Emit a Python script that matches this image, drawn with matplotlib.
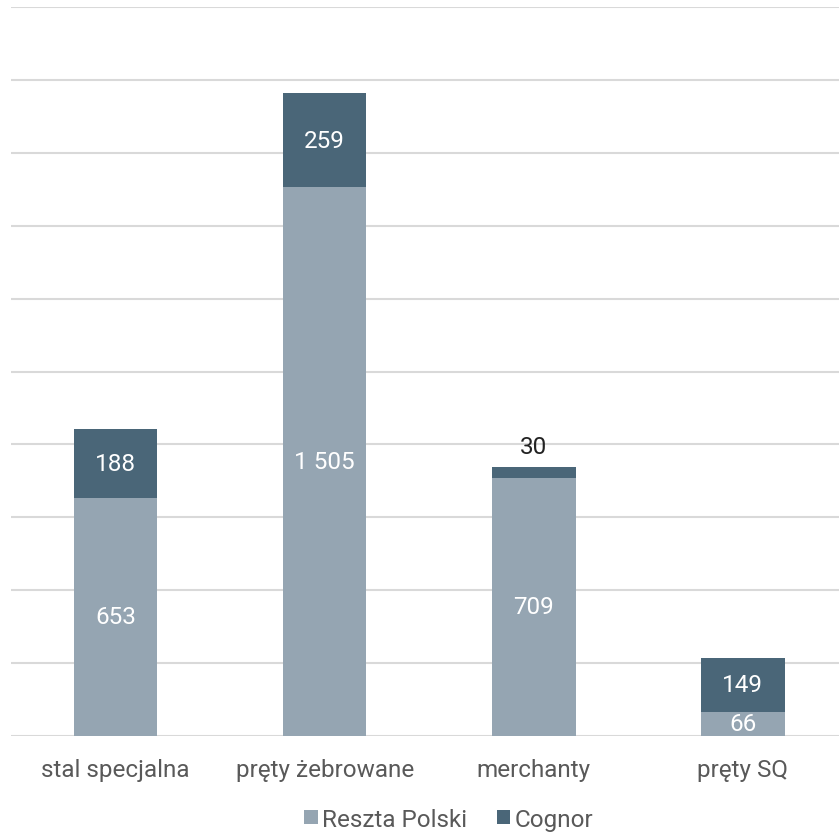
"""Stacked bar chart: steel product volumes, Cognor vs the rest of Poland."""

import matplotlib as mpl
import matplotlib.pyplot as plt

mpl.rcParams['font.family'] = ['Roboto', 'DejaVu Sans']

# --- Data ---
CATEGORIES   = ['stal specjalna', 'pręty żebrowane', 'merchanty', 'pręty SQ']
RESZTA       = [653, 1505, 709, 66]
COGNOR       = [188, 259, 30, 149]
LABEL_INSIDE = [True, True, False, True]   # Cognor label inside segment?

# --- Style ---
C_RESZTA = '#95a5b2'
C_COGNOR = '#4a6678'
C_GRID   = '#d9d9d9'
C_TEXT   = '#595959'
FS       = 17.5


def main():
    fig = plt.figure(figsize=(8.39, 8.37), dpi=100)
    ax = fig.add_axes([11 / 839, 100 / 837, 828 / 839, 729 / 837])

    x = list(range(len(CATEGORIES)))
    b1 = ax.bar(x, RESZTA, width=0.4, color=C_RESZTA, label='Reszta Polski',
                zorder=3)
    b2 = ax.bar(x, COGNOR, width=0.4, bottom=RESZTA, color=C_COGNOR,
                label='Cognor', zorder=3)

    # value labels
    for i in x:
        ax.text(i, RESZTA[i] / 2, f'{RESZTA[i]:,}'.replace(',', ' '),
                ha='center', va='center', color='white', fontsize=FS, zorder=4)
        if LABEL_INSIDE[i]:
            ax.text(i, RESZTA[i] + COGNOR[i] / 2, f'{COGNOR[i]:,}'.replace(',', ' '),
                    ha='center', va='center', color='white', fontsize=FS, zorder=4)
        else:
            ax.text(i, RESZTA[i] + COGNOR[i] + 25, f'{COGNOR[i]}',
                    ha='center', va='bottom', color='#222222', fontsize=FS, zorder=4)

    ax.set_xlim(-0.5, 3.46)
    ax.set_ylim(0, 2000)
    ax.set_yticks(range(0, 2001, 200))
    ax.yaxis.grid(True, color=C_GRID, lw=1.5, zorder=0)
    ax.set_xticks(x)
    ax.set_xticklabels(CATEGORIES, fontsize=FS, color=C_TEXT)
    ax.tick_params(axis='x', length=0, pad=16)
    ax.tick_params(axis='y', length=0, labelleft=False)
    for s in ax.spines.values():
        s.set_visible(False)

    fig.legend(handles=[b1, b2], loc='center', bbox_to_anchor=(0.535, 0.02),
               ncol=2, frameon=False, fontsize=FS, labelcolor=C_TEXT,
               handlelength=0.55, handleheight=0.55, handletextpad=0.2,
               columnspacing=1.2)

    fig.savefig('out.png', dpi=100)


if __name__ == '__main__':
    main()
